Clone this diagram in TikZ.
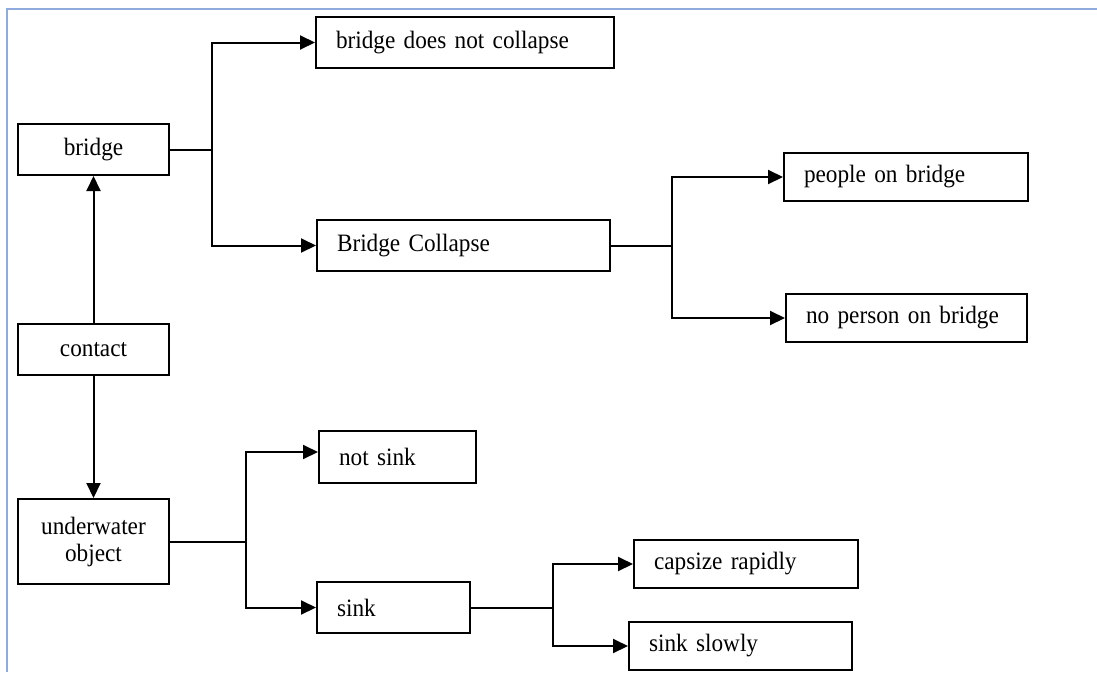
\documentclass[tikz,border=0pt]{standalone}
\usepackage{fontspec}
\setmainfont{Liberation Serif}[FakeStretch=0.93,WordSpace=0.6]
\usetikzlibrary{arrows.meta,calc}
\definecolor{frameblue}{RGB}{143,170,220}
\begin{document}
\begin{tikzpicture}[x=1pt,y=-1pt,
  every node/.style={font=\fontsize{25}{27}\selectfont},
  box/.style={draw=black,line width=2pt,inner sep=0pt,minimum height=#1,align=center},
  box/.default=51pt,
  lbox/.style 2 args={draw=black,line width=2pt,inner ysep=0pt,inner xsep=20pt,
    text width=#1-40pt,minimum height=#2,align=left},
  link/.style={line width=2pt},
  arr/.style={line width=2pt,-{Triangle[length=15pt,width=14pt]}}]
\useasboundingbox (0,0) rectangle (1097,672);
% frame lines along the top and left edges
\draw[frameblue,line width=2pt] (6.5,672) -- (6.5,8.5) -- (1097,8.5);

% left column
\node[box,minimum width=151pt] (bridge) at (93.5,149.5) {bridge};
\node[box,minimum width=151pt] (contact) at (93.5,349.5) {contact};
\node[box=85pt,minimum width=151pt] (under) at (93.5,541.5) {underwater\\object};

% bridge outcomes
\node[lbox={298pt}{51pt}] (nocollapse) at (465,42.5) {bridge does not collapse};
\node[lbox={293pt}{51pt}] (collapse) at (463.5,245.5) {Bridge Collapse};
\node[lbox={244pt}{48pt}] (people) at (906,177) {people on bridge};
\node[lbox={241pt}{48pt}] (noperson) at (906.5,318) {no person on bridge};

% underwater outcomes
\node[lbox={157pt}{52pt}] (notsink) at (397.5,457) {not sink};
\node[lbox={153pt}{51pt}] (sink) at (393.5,607.5) {sink};
\node[lbox={224pt}{48pt}] (capsize) at (746,564) {capsize rapidly};
\node[lbox={223pt}{48pt}] (slowly) at (740.5,646) {sink slowly};

% vertical links from contact
\draw[arr] (contact.north) -- (bridge.south);
\draw[arr] (contact.south) -- (under.north);

% branch from bridge
\draw[link] (bridge.east) -- ++(42,0) coordinate (j1);
\draw[arr] (j1) |- (nocollapse.west);
\draw[arr] (j1) |- (collapse.west);

% branch from bridge collapse
\draw[link] (collapse.east) -- ++(61,0) coordinate (j2);
\draw[arr] (j2) |- (people.west);
\draw[arr] (j2) |- (noperson.west);

% branch from underwater object
\draw[link] (under.east) -- ++(76,0) coordinate (j3);
\draw[arr] (j3) |- ([yshift=5pt]notsink.west);
\draw[arr] (j3) |- (sink.west);

% branch from sink
\draw[link] (sink.east) -- ++(82,0) coordinate (j4);
\draw[arr] (j4) |- (capsize.west);
\draw[arr] (j4) |- (slowly.west);
\end{tikzpicture}
\end{document}
